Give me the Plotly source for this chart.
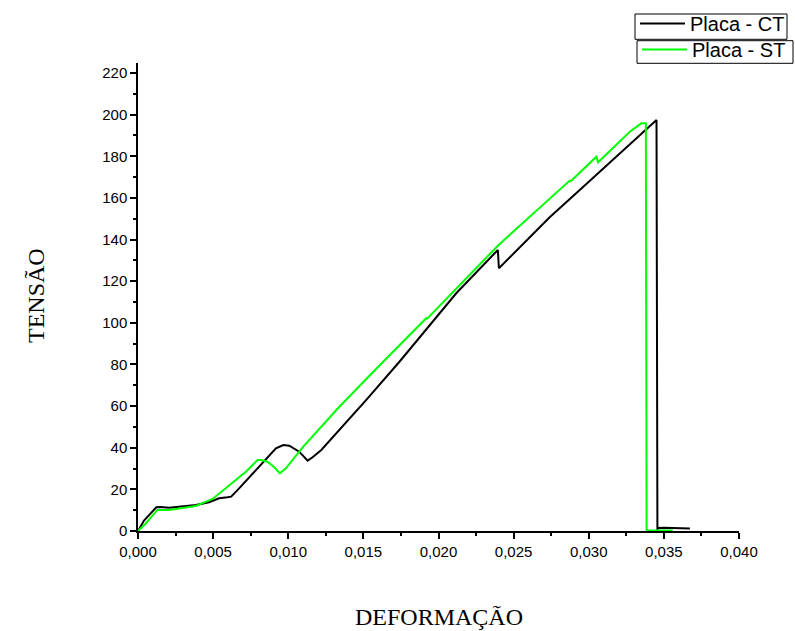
import plotly.graph_objects as go

# Placa - CT (black)
ct_x = [0.0, 0.0004, 0.00122, 0.0015, 0.00207, 0.0030, 0.00385, 0.00473, 0.0054, 0.00595,
        0.0062, 0.00673, 0.00807, 0.00918, 0.00967, 0.01007, 0.01073, 0.01129, 0.01162,
        0.0122, 0.01518, 0.0174, 0.02118, 0.02395, 0.02402, 0.0274, 0.0294, 0.03451,
        0.03457, 0.0346, 0.0350, 0.03673]
ct_y = [0.0, 5.0, 11.4, 11.5, 11.2, 11.8, 12.5, 13.8, 15.7, 16.2,
        16.5, 20.5, 30.9, 39.7, 41.3, 41.0, 38.1, 33.8, 35.4,
        38.9, 62.9, 81.3, 114.2, 135.0, 126.2, 150.7, 163.8, 197.4,
        0.5, 1.5, 1.6, 1.2]

# Placa - ST (green)
st_x = [0.0, 0.0005, 0.00129, 0.00207, 0.00385, 0.00496, 0.0060, 0.00718, 0.00796, 0.00818,
        0.00862, 0.00907, 0.00944, 0.00984, 0.0110, 0.0134, 0.01607, 0.01918, 0.01925, 0.024,
        0.02873, 0.0288, 0.03051, 0.03062, 0.03262, 0.03273, 0.0335, 0.0338, 0.03385,
        0.03387, 0.0356]
st_y = [0.0, 3.5, 10.1, 10.1, 12.0, 15.4, 21.5, 28.5, 34.1, 34.1,
        33.3, 30.6, 27.7, 30.1, 40.5, 59.7, 79.5, 102.2, 102.0, 137.4,
        168.3, 168.0, 179.8, 177.1, 191.0, 191.8, 195.8, 195.8, 0.5,
        0.3, 0.3]

x_tickvals = [0.0, 0.005, 0.010, 0.015, 0.020, 0.025, 0.030, 0.035, 0.040]
y_tickvals = [0, 20, 40, 60, 80, 100, 120, 140, 160, 180, 200, 220]

# layout helpers (pixel -> paper coords for a 601x468 plot area at (138, 63))
def px(xp):
    return (xp - 138) / 601

def py(yp):
    return (531 - yp) / 468

fig = go.Figure()
fig.add_trace(go.Scatter(x=ct_x, y=ct_y, mode="lines", name="Placa - CT",
                         line=dict(color="#000000", width=2), legend="legend"))
fig.add_trace(go.Scatter(x=st_x, y=st_y, mode="lines", name="Placa - ST",
                         line=dict(color="#00FF00", width=2), legend="legend2"))

axis_font = dict(family="Liberation Sans, Arial, sans-serif", size=15, color="black")
legend_font = dict(family="Liberation Sans, Arial, sans-serif", size=20, color="black")
title_font = dict(family="Liberation Serif, Times New Roman, serif", size=24, color="black")
fig.update_layout(
    width=795, height=631,
    margin=dict(l=138, r=56, t=63, b=100, autoexpand=False),
    paper_bgcolor="white", plot_bgcolor="white",
    separators=",.",
    showlegend=True,
    legend=dict(x=px(635), y=py(4), xanchor="left", yanchor="top",
                borderwidth=0, bgcolor="rgba(0,0,0,0)",
                font=legend_font, tracegroupgap=0, itemwidth=45),
    legend2=dict(x=px(637), y=py(30), xanchor="left", yanchor="top",
                 borderwidth=0, bgcolor="rgba(0,0,0,0)",
                 font=legend_font, tracegroupgap=0, itemwidth=45),
    shapes=[
        dict(type="rect", xref="paper", yref="paper", x0=px(635), x1=px(787), y0=py(39.3), y1=py(14),
             line=dict(color="black", width=1), fillcolor="rgba(0,0,0,0)", layer="above"),
        dict(type="rect", xref="paper", yref="paper", x0=px(637), x1=px(793), y0=py(63.3), y1=py(40.7),
             line=dict(color="black", width=1), fillcolor="rgba(0,0,0,0)", layer="above"),
    ],
    xaxis=dict(range=[0, 0.040], tickvals=x_tickvals, tickformat=".3f",
               showline=True, linecolor="black", linewidth=1.5, mirror=False,
               ticks="outside", ticklen=6, tickwidth=1.5, tickcolor="black",
               minor=dict(ticks="outside", ticklen=3, tickwidth=1.5, tickcolor="black", dtick=0.0025, tick0=0),
               showgrid=False, zeroline=False, tickfont=axis_font),
    yaxis=dict(range=[0, 224.8], tickvals=y_tickvals,
               showline=True, linecolor="black", linewidth=1.5, mirror=False,
               ticks="outside", ticklen=6, tickwidth=1.5, tickcolor="black",
               minor=dict(ticks="outside", ticklen=3, tickwidth=1.5, tickcolor="black", dtick=10, tick0=0),
               showgrid=False, zeroline=False, tickfont=axis_font),
    annotations=[
        dict(text="TENSÃO", xref="paper", yref="paper", x=px(36), y=py(296),
             xanchor="center", yanchor="middle", textangle=-90, showarrow=False,
             font=title_font),
        dict(text="DEFORMAÇÃO", xref="paper", yref="paper", x=px(439), y=py(617),
             xanchor="center", yanchor="middle", showarrow=False,
             font=title_font),
    ],
)

fig.write_html("out.html", config={"displayModeBar": False},
               post_script="document.body.style.margin='0';document.body.style.overflow='hidden';")
